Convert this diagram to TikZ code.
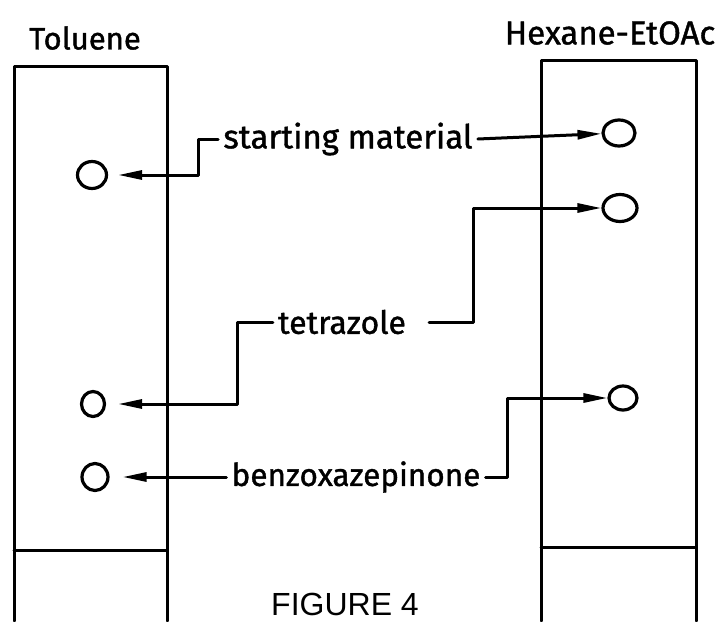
\documentclass[tikz,border=0pt]{standalone}
\usepackage{fontspec}
\setmainfont{Fira Sans}
\setsansfont{Liberation Sans}
\newfontfamily\lettering{Fira Sans}[FakeBold=1.2]
\usetikzlibrary{arrows.meta,shapes.geometric}

\tikzset{
  plate/.style={line width=3pt},
  spot/.style={draw, ellipse, line width=3.2pt, inner sep=0pt},
  lbl/.style={inner sep=5pt, font=\lettering\fontsize{#1}{36}\selectfont},
  lbl/.default=32,
  conn/.style={line width=3pt, -{Triangle[length=24pt,width=9pt]}},
}

\begin{document}
\begin{tikzpicture}[x=1pt, y=-1pt, line cap=round, line join=round]

  %% ════ plates ════
  \draw[plate] (14,621) -- (14,66) -- (167,66) -- (167,621);
  \draw[plate] (14,550) -- (167,550);
  \draw[plate] (541,621) -- (541,60) -- (696,60) -- (696,621);
  \draw[plate] (541,547) -- (696,547);

  %% ════ spots ════
  \node[spot, minimum width=29pt, minimum height=27pt] (lsm) at (92,175) {};
  \node[spot, minimum width=23pt, minimum height=25pt] (ltz) at (93,404) {};
  \node[spot, minimum width=26pt, minimum height=27pt] (lbz) at (95,477) {};
  \node[spot, minimum width=32pt, minimum height=26pt] (rsm) at (619,133) {};
  \node[spot, minimum width=34pt, minimum height=27pt] (rtz) at (620,208) {};
  \node[spot, minimum width=28pt, minimum height=24pt] (rbz) at (623,398) {};

  %% ════ labels ════
  \node[lbl=31] (tol) at (85,38) {Toluene};
  \node[lbl=33] (hex) at (610,33) {Hexane-EtOAc};
  \node[lbl=33] (sm) at (348,139) {starting material};
  \node[lbl=32] (tz) at (342,322) {tetrazole};
  \node[lbl=31.5] (bz) at (356,477) {benzoxazepinone};
  \node[font=\sffamily\fontsize{32}{38}\selectfont] (fig) at (345,604) {FIGURE 4};

  %% ════ connectors ════
  \draw[conn, shorten >=10pt] (sm.west) -- ++(-20,0) |- (lsm);
  \draw[conn] (sm.east) -- (rsm);
  \draw[conn, shorten >=12pt] (tz.west) -- ++(-35,0) |- (ltz);
  \draw[conn, shorten <=18pt] (tz.east) -- ++(62,0) |- (rtz);
  \draw[conn, shorten >=13pt] (bz.west) -- (lbz);
  \draw[conn] (bz.east) -- ++(22,0) |- (rbz);

  \pgfresetboundingbox
  \path[use as bounding box] (0,0) rectangle (720,621);
\end{tikzpicture}
\end{document}
